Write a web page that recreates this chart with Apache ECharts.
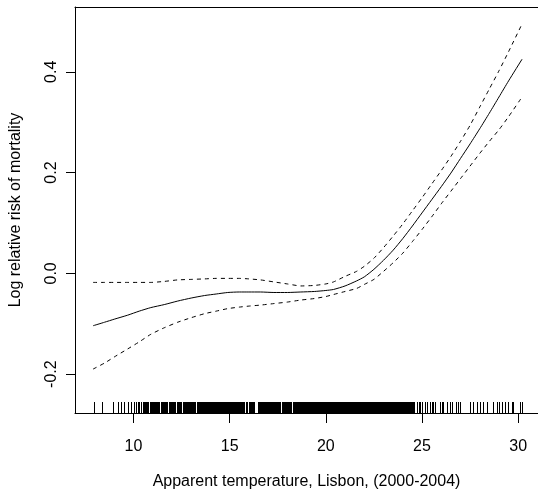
<!DOCTYPE html>
<html>
<head>
<meta charset="utf-8">
<script src="https://cdn.jsdelivr.net/npm/echarts@6/dist/echarts.min.js"></script>
<style>
html,body{margin:0;padding:0;background:#fff;}
#chart{width:538px;height:495px;}
</style>
</head>
<body>
<div id="chart"></div>
<script>
// Apparent temperature grid for the fitted curves
var tempX = [7.9, 8.5, 9.0, 9.7, 10.3, 10.9, 11.6, 12.3, 13.0, 13.7, 14.3, 14.9, 15.5, 16.0, 16.6, 17.3, 18.0, 18.7, 19.4, 20.0,
             20.4, 21.0, 21.6, 22.0, 22.5, 23.0, 23.5, 24.0, 24.5, 25.0, 25.5, 26.0, 26.5, 27.0, 27.5, 28.0, 28.5, 29.0, 29.5, 30.2];
// Fitted log relative risk
var fitValues = [-0.104, -0.097, -0.091, -0.083, -0.075, -0.068, -0.062, -0.055, -0.049, -0.044, -0.041, -0.038, -0.037, -0.037, -0.037, -0.038, -0.038, -0.037, -0.036, -0.034,
                 -0.032, -0.025, -0.015, -0.007, 0.008, 0.026, 0.046, 0.069, 0.094, 0.120, 0.146, 0.172, 0.199, 0.228, 0.257, 0.287, 0.318, 0.350, 0.382, 0.425];
// Upper confidence band
var upperValues = [-0.018, -0.018, -0.018, -0.018, -0.018, -0.018, -0.016, -0.013, -0.012, -0.011, -0.010, -0.010, -0.010, -0.011, -0.013, -0.017, -0.021, -0.025, -0.024, -0.021,
                   -0.017, -0.006, 0.004, 0.014, 0.030, 0.051, 0.074, 0.098, 0.124, 0.150, 0.177, 0.204, 0.232, 0.262, 0.294, 0.330, 0.366, 0.402, 0.440, 0.495];
// Lower confidence band
var lowerValues = [-0.190, -0.178, -0.166, -0.150, -0.136, -0.121, -0.108, -0.097, -0.088, -0.080, -0.075, -0.070, -0.067, -0.065, -0.063, -0.060, -0.057, -0.053, -0.050, -0.046,
                   -0.042, -0.036, -0.030, -0.022, -0.012, 0.004, 0.021, 0.040, 0.063, 0.087, 0.112, 0.138, 0.163, 0.188, 0.213, 0.238, 0.262, 0.285, 0.311, 0.350];
// Observed daily apparent temperatures (rug)
var rugValues = [7.93, 8.36, 8.94, 9.17, 9.34, 9.51, 9.69, 9.86, 10.03, 10.12, 10.21, 10.29, 10.38, 10.47,
  10.50, 10.55, 10.60, 10.65, 10.70, 10.75, 10.85, 10.90, 10.95,
  11.00, 11.05, 11.10, 11.15, 11.20, 11.25, 11.30, 11.35, 11.45, 11.50, 11.55, 11.60, 11.65, 11.70, 11.75, 11.85, 11.90, 11.95,
  12.00, 12.05, 12.10, 12.15, 12.25, 12.30, 12.35, 12.40, 12.45, 12.55, 12.60, 12.65, 12.70, 12.75, 12.80, 12.85, 12.90, 12.95,
  13.00, 13.05, 13.10, 13.15, 13.20, 13.30, 13.35, 13.40, 13.45, 13.50, 13.55, 13.60, 13.65, 13.70, 13.75, 13.80, 13.90, 13.95,
  14.00, 14.05, 14.10, 14.15, 14.20, 14.25, 14.30, 14.35, 14.40, 14.45, 14.50, 14.55, 14.60, 14.65, 14.70, 14.75, 14.80, 14.85, 14.90, 14.95,
  15.00, 15.05, 15.10, 15.15, 15.20, 15.25, 15.30, 15.35, 15.40, 15.45, 15.50, 15.55, 15.60, 15.65, 15.70, 15.75, 15.85, 15.90,
  16.00, 16.05, 16.10, 16.15, 16.20, 16.25, 16.45, 16.50, 16.55, 16.60, 16.65, 16.70, 16.75, 16.80, 16.85, 16.90, 16.95,
  17.00, 17.05, 17.10, 17.15, 17.20, 17.25, 17.30, 17.35, 17.40, 17.45, 17.50, 17.55, 17.60, 17.70, 17.75, 17.80, 17.85, 17.90, 17.95,
  18.00, 18.05, 18.10, 18.15, 18.20, 18.30, 18.35, 18.40, 18.45, 18.50, 18.55, 18.60, 18.65, 18.70, 18.75, 18.80, 18.85, 18.90, 18.95,
  19.00, 19.05, 19.10, 19.15, 19.20, 19.25, 19.30, 19.35, 19.40, 19.45, 19.50, 19.55, 19.60, 19.65, 19.70, 19.75, 19.80, 19.85, 19.90, 19.95,
  20.00, 20.05, 20.10, 20.15, 20.20, 20.25, 20.30, 20.35, 20.40, 20.45, 20.50, 20.55, 20.60, 20.65, 20.70, 20.75, 20.80, 20.85, 20.90, 20.95,
  21.00, 21.05, 21.10, 21.15, 21.20, 21.25, 21.30, 21.35, 21.40, 21.45, 21.50, 21.55, 21.60, 21.65, 21.70, 21.75, 21.80, 21.85, 21.90, 21.95,
  22.00, 22.05, 22.10, 22.15, 22.20, 22.25, 22.30, 22.35, 22.40, 22.45, 22.50, 22.55, 22.60, 22.65, 22.70, 22.75, 22.80, 22.85, 22.90, 22.95,
  23.00, 23.05, 23.10, 23.15, 23.20, 23.25, 23.30, 23.35, 23.40, 23.45, 23.50, 23.55, 23.60, 23.65, 23.70, 23.75, 23.80, 23.85, 23.90, 23.95,
  24.00, 24.05, 24.10, 24.15, 24.20, 24.25, 24.30, 24.35, 24.40, 24.45, 24.50, 24.55, 24.60,
  24.73, 24.82, 24.90, 25.02, 25.16, 25.28, 25.42, 25.51, 25.59, 25.68, 25.94, 26.03, 26.11, 26.29, 26.46, 26.54, 26.77, 26.89, 26.98,
  27.50, 27.67, 27.84, 28.01, 28.19, 28.36, 28.70, 28.88, 29.00, 29.14, 29.31, 29.48, 29.66, 29.74, 30.09, 30.18];
var xTicks = [10, 15, 20, 25, 30];
var yTicks = [-0.2, 0.0, 0.2, 0.4];
var xTitle = 'Apparent temperature, Lisbon, (2000-2004)';
var yTitle = 'Log relative risk of mortality';

function pairs(xs, ys) { return xs.map(function (x, i) { return [x, ys[i]]; }); }

var X_MIN = 6.96, X_MAX = 31.03, Y_MIN = -0.2772, Y_MAX = 0.5287;
var FONT = '"Liberation Sans", Arial, Helvetica, sans-serif';
var chart = echarts.init(document.getElementById('chart'), null, { renderer: 'canvas' });
chart.setOption({
  animation: false,
  backgroundColor: '#fff',
  grid: { left: 74, top: 7, right: 0, bottom: 81 },
  xAxis: [{
    type: 'value', min: X_MIN, max: X_MAX,
    splitLine: { show: false },
    axisLine: { show: true, onZero: false, lineStyle: { color: '#000', width: 1 } },
    axisTick: { show: true, length: 10, lineStyle: { color: '#000' }, customValues: xTicks },
    axisLabel: { show: true, margin: 26, fontSize: 16, fontFamily: FONT, color: '#000', customValues: xTicks },
    name: xTitle, nameLocation: 'middle', nameGap: 61,
    nameTextStyle: { fontSize: 16, fontFamily: FONT, color: '#000' }
  }, {
    type: 'value', min: X_MIN, max: X_MAX, position: 'top',
    splitLine: { show: false },
    axisLine: { show: true, onZero: false, lineStyle: { color: '#000', width: 1 } },
    axisTick: { show: false }, axisLabel: { show: false }
  }],
  yAxis: {
    type: 'value', min: Y_MIN, max: Y_MAX,
    splitLine: { show: false },
    axisLine: { show: true, onZero: false, lineStyle: { color: '#000', width: 1 } },
    axisTick: { show: true, length: 9, lineStyle: { color: '#000' }, customValues: yTicks },
    axisLabel: { show: true, rotate: 90, margin: 15, fontSize: 16, fontFamily: FONT, color: '#000', customValues: yTicks,
      formatter: function (v) { return v.toFixed(1); } },
    name: yTitle, nameLocation: 'middle', nameGap: 51, nameRotate: 90,
    nameTextStyle: { fontSize: 16, fontFamily: FONT, color: '#000' }
  },
  series: [
    {
      type: 'custom', name: 'rug', silent: true,
      data: rugValues.map(function (v) { return [v]; }),
      renderItem: function (params, api) {
        var base = api.coord([api.value(0), Y_MIN]);
        var px = Math.round(base[0]) + 0.5;
        return {
          type: 'line',
          shape: { x1: px, y1: base[1], x2: px, y2: base[1] - 11 },
          style: { stroke: '#000', lineWidth: 1 }
        };
      }
    },
    { type: 'line', name: 'fit', data: pairs(tempX, fitValues), showSymbol: false, smooth: 0.2,
      lineStyle: { color: '#000', width: 1, type: 'solid' } },
    { type: 'line', name: 'upper', data: pairs(tempX, upperValues), showSymbol: false, smooth: 0.2,
      lineStyle: { color: '#000', width: 1, type: [4, 4] } },
    { type: 'line', name: 'lower', data: pairs(tempX, lowerValues), showSymbol: false, smooth: 0.2,
      lineStyle: { color: '#000', width: 1, type: [4, 4] } }
  ]
});
</script>
</body>
</html>
